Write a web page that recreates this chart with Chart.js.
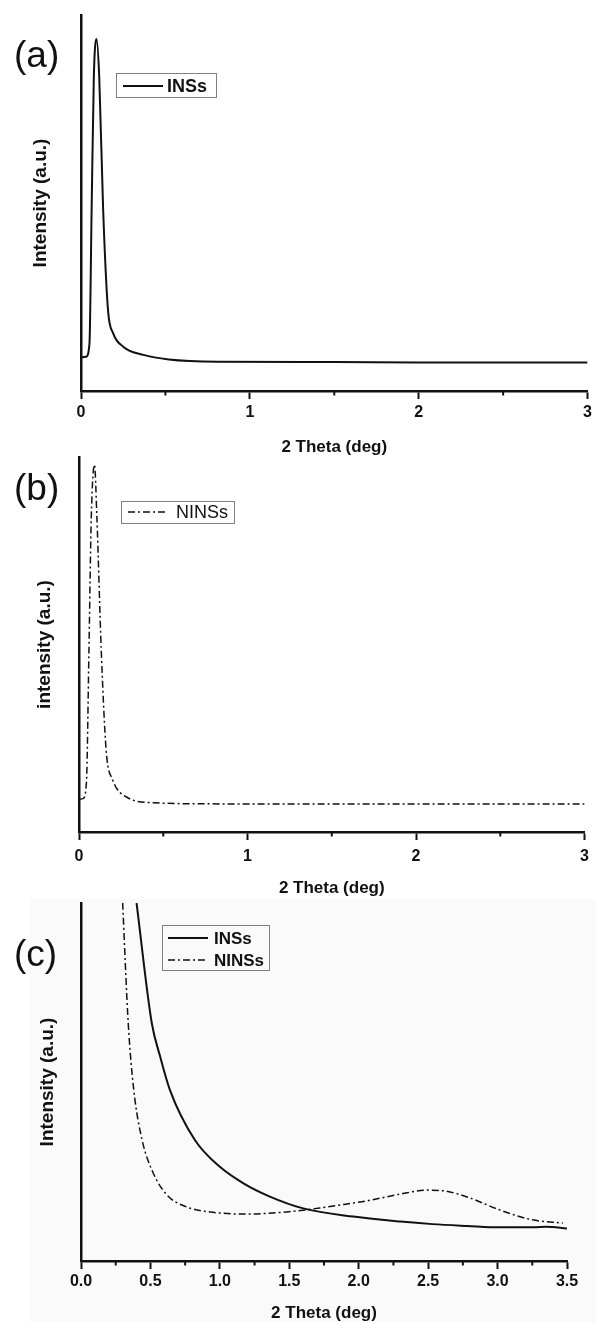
<!DOCTYPE html>
<html>
<head>
<meta charset="utf-8">
<script src="https://cdn.jsdelivr.net/npm/chart.js@4.4.1/dist/chart.umd.min.js"></script>
<style>
  html, body { margin: 0; padding: 0; background: #ffffff; }
  body { width: 596px; height: 1322px; position: relative; overflow: hidden; font-family: "Liberation Sans", Arial, sans-serif; }
  canvas { position: absolute; left: 0; }
  .plabel { position: absolute; left: 14px; font-size: 37px; line-height: 37px; color: #111; font-family: "Liberation Sans", Arial, sans-serif; }
  #bgC { position: absolute; left: 30px; top: 899px; width: 566px; height: 423px; background: #fafafa; }
</style>
</head>
<body>
<div id="bgC"></div>
<canvas id="cA" width="596" height="460" style="top:0px"></canvas>
<canvas id="cB" width="596" height="460" style="top:440px"></canvas>
<canvas id="cC" width="596" height="432" style="top:890px"></canvas>
<div class="plabel" style="top:36px">(a)</div>
<div class="plabel" style="top:469px">(b)</div>
<div class="plabel" style="top:935px">(c)</div>
<script>
// ---------------- data ----------------
// Panel (a): INSs
const thetaA = [0, 0.03, 0.05, 0.063, 0.076, 0.092, 0.108, 0.131, 0.16, 0.19, 0.25, 0.37, 0.52, 0.81, 1.5, 2.0, 3.0];
const insA   = [8.9, 9.1, 12.5, 48.4, 83.5, 93.6, 83.5, 48.4, 21.5, 15.4, 11.8, 9.6, 8.4, 7.8, 7.7, 7.6, 7.6];
// Panel (b): NINSs
const thetaB = [0, 0.024, 0.044, 0.059, 0.073, 0.092, 0.106, 0.132, 0.161, 0.20, 0.28, 0.44, 0.83, 3.0];
const ninsB  = [8.7, 8.9, 13.1, 48.5, 84.1, 97.9, 84.1, 48.5, 21.9, 13.9, 9.4, 7.8, 7.5, 7.5];
// Panel (c): INSs and NINSs, zoomed
const thetaC_ins = [0.40, 0.51, 0.57, 0.64, 0.82, 1.0, 1.17, 1.36, 1.60, 1.96, 2.30, 2.53, 2.78, 3.02, 3.26, 3.35, 3.5];
const insC       = [100, 66.4, 57.1, 47.8, 33.8, 26.3, 21.7, 18.0, 14.7, 12.4, 11.0, 10.3, 9.8, 9.4, 9.4, 9.6, 9.1];
const thetaC_nins = [0.30, 0.34, 0.38, 0.44, 0.52, 0.62, 0.76, 0.93, 1.19, 1.48, 1.72, 1.96, 2.06, 2.30, 2.49, 2.61, 2.78, 3.02, 3.25, 3.47];
const ninsC       = [100, 66.5, 47.8, 33.8, 24.6, 18.4, 15.1, 13.7, 13.1, 13.7, 14.8, 16.2, 16.8, 18.7, 19.8, 19.6, 17.9, 14.2, 11.5, 10.6];

const xTitle = '2 Theta (deg)';
const yTitleA = 'Intensity (a.u.)';
const yTitleB = 'intensity (a.u.)';
const yTitleC = 'Intensity (a.u.)';
const labelINS = 'INSs';
const labelNINS = 'NINSs';

// ---------------- helpers ----------------
const FONT = '"Liberation Sans", Arial, sans-serif';
const INK = '#111111';
const DASHDOT = [7, 3, 2, 3];

function pts(xs, ys) { return xs.map((x, i) => ({ x: x, y: ys[i] })); }

const boxLegend = {
  id: 'boxLegend',
  afterDraw(chart, args, o) {
    const { ctx, chartArea } = chart;
    const x = Math.round(chartArea.left + o.dx), y = Math.round(chartArea.top + o.dy);
    ctx.save();
    ctx.strokeStyle = '#808080';
    ctx.lineWidth = 1;
    ctx.setLineDash([]);
    ctx.strokeRect(x + 0.5, y + 0.5, o.w, o.h);
    chart.data.datasets.forEach((ds, i) => {
      const cy = y + o.padTop + i * o.rowH;
      ctx.beginPath();
      ctx.setLineDash(ds.borderDash || []);
      ctx.lineWidth = ds.borderWidth;
      ctx.strokeStyle = ds.borderColor;
      ctx.moveTo(x + o.lineX0, cy);
      ctx.lineTo(x + o.lineX1, cy);
      ctx.stroke();
      ctx.setLineDash([]);
      ctx.fillStyle = INK;
      ctx.font = o.font;
      ctx.textBaseline = 'middle';
      ctx.textAlign = 'left';
      ctx.fillText(ds.label, x + o.textX, cy + 1);
    });
    ctx.restore();
  }
};

const minorTicks = {
  id: 'minorTicks',
  afterDraw(chart, args, o) {
    const sc = chart.scales.x;
    const ctx = chart.ctx;
    ctx.save();
    ctx.strokeStyle = INK;
    ctx.lineWidth = 2;
    sc.ticks.forEach(t => {
      if (Math.abs(t.value / o.major - Math.round(t.value / o.major)) > 1e-6) {
        const px = sc.getPixelForValue(t.value);
        ctx.beginPath();
        ctx.moveTo(px, sc.top);
        ctx.lineTo(px, sc.top + o.len);
        ctx.stroke();
      }
    });
    ctx.restore();
  }
};

function makeChart(id, cfg) {
  const isMajor = v => Math.abs(v / cfg.major - Math.round(v / cfg.major)) < 1e-6;
  return new Chart(document.getElementById(id), {
    type: 'line',
    data: { datasets: cfg.datasets },
    plugins: [boxLegend, minorTicks],
    options: {
      responsive: false,
      animation: false,
      devicePixelRatio: 1,
      layout: { padding: { top: cfg.padTop, right: cfg.padRight, bottom: 0, left: 0 } },
      elements: { point: { radius: 0 }, line: { cubicInterpolationMode: 'monotone' } },
      plugins: {
        legend: { display: false },
        tooltip: { enabled: false },
        boxLegend: cfg.legend,
        minorTicks: { major: cfg.major, len: 4.5 }
      },
      scales: {
        x: {
          type: 'linear',
          min: cfg.xMin, max: cfg.xMax,
          afterFit: s => { s.height = cfg.xHeight; },
          border: { display: true, color: INK, width: 2.5 },
          grid: {
            drawOnChartArea: false, drawTicks: true, tickLength: 8, tickWidth: 2,
            tickColor: ctx => (ctx.tick && isMajor(ctx.tick.value)) ? INK : 'rgba(0,0,0,0)'
          },
          ticks: {
            stepSize: cfg.minor, autoSkip: false, maxRotation: 0, padding: cfg.tickPad,
            color: INK, font: { family: FONT, size: 16, weight: 'bold', lineHeight: 1.2 },
            callback: v => isMajor(v) ? cfg.fmt(v) : ''
          },
          title: {
            display: true, text: xTitle, color: INK,
            font: { family: FONT, size: 17, weight: 'bold', lineHeight: 1 },
            padding: { top: 0, bottom: cfg.xTitlePad }
          }
        },
        y: {
          type: 'linear',
          min: 0, max: 100,
          afterFit: s => { s.width = cfg.yWidth; },
          border: { display: true, color: INK, width: 2.5 },
          grid: { display: false, drawTicks: false },
          ticks: { display: false },
          title: {
            display: true, text: cfg.yTitle, color: INK,
            font: { family: FONT, size: 19, weight: 'bold', lineHeight: 1 },
            padding: { top: cfg.yTitlePad, bottom: 0 }
          }
        }
      }
    }
  });
}

makeChart('cA', {
  datasets: [{ label: labelINS, data: pts(thetaA, insA), borderColor: INK, borderWidth: 2, fill: false }],
  padTop: 15, padRight: 5, xHeight: 69, yWidth: 81, tickPad: 4, xTitlePad: 4.5, yTitlePad: 31.5,
  xMin: 0, xMax: 3, major: 1, minor: 0.5, fmt: v => String(Math.round(v)),
  yTitle: yTitleA,
  legend: { dx: 35, dy: 58, w: 100, h: 24, padTop: 13, rowH: 22, lineX0: 7, lineX1: 47, textX: 51, font: 'bold 18px ' + FONT }
});

makeChart('cB', {
  datasets: [{ label: labelNINS, data: pts(thetaB, ninsB), borderColor: INK, borderWidth: 1.5, borderDash: DASHDOT, fill: false }],
  padTop: 17, padRight: 7, xHeight: 68, yWidth: 79, tickPad: 7, xTitlePad: 3.5, yTitlePad: 35.5,
  xMin: 0, xMax: 3, major: 1, minor: 0.5, fmt: v => String(Math.round(v)),
  yTitle: yTitleB,
  legend: { dx: 42, dy: 44, w: 113, h: 22, padTop: 11, rowH: 22, lineX0: 7, lineX1: 47, textX: 55, font: '18px ' + FONT }
});

makeChart('cC', {
  datasets: [
    { label: labelINS, data: pts(thetaC_ins, insC), borderColor: INK, borderWidth: 2, fill: false },
    { label: labelNINS, data: pts(thetaC_nins, ninsC), borderColor: INK, borderWidth: 1.5, borderDash: DASHDOT, fill: false }
  ],
  padTop: 13, padRight: 29, xHeight: 61, yWidth: 81, tickPad: 3, xTitlePad: 0.5, yTitlePad: 38.5,
  xMin: 0, xMax: 3.5, major: 0.5, minor: 0.25, fmt: v => v.toFixed(1),
  yTitle: yTitleC,
  legend: { dx: 81, dy: 22, w: 107, h: 45, padTop: 13, rowH: 22, lineX0: 6, lineX1: 46, textX: 52, font: 'bold 17px ' + FONT }
});
</script>
</body>
</html>
